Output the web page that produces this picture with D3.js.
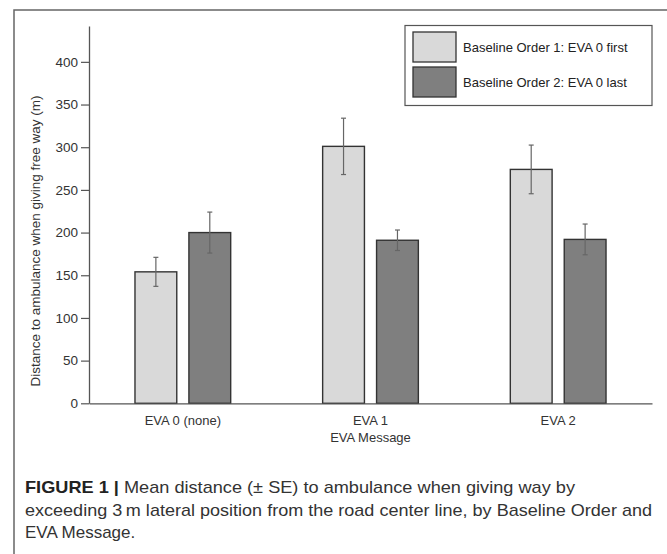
<!DOCTYPE html>
<html>
<head>
<meta charset="utf-8">
<script src="https://cdn.jsdelivr.net/npm/d3@7"></script>
<style>
  html, body { margin: 0; padding: 0; background: #fff; }
  svg { display: block; font-family: "Liberation Sans", Arial, Helvetica, sans-serif; }
</style>
</head>
<body>
<svg id="grafica"></svg>
<script>
// datos
const grupos = ["EVA 0 (none)", "EVA 1", "EVA 2"];
const series = ["Baseline Order 1: EVA 0 first", "Baseline Order 2: EVA 0 last"];
const mediaOrden1 = [154, 301, 274];
const mediaOrden2 = [200, 191, 192];
const seOrden1 = [17, 33, 28.5];
const seOrden2 = [24, 12, 18];
const yTicks = [0, 50, 100, 150, 200, 250, 300, 350, 400];
const colores = ["#d9d9d9", "#7f7f7f"];

const width = 667;
const height = 554;
const fuente = "'Liberation Sans', Arial, sans-serif";

const svg = d3.select("#grafica")
  .attr("width", width)
  .attr("height", height);

// marco de la figura
svg.append("path")
  .attr("d", `M 14,${height} L 14,10 L ${width},10`)
  .attr("fill", "none")
  .attr("stroke", "#666")
  .attr("stroke-width", 1.5);

const x0 = d3.scaleBand()
  .domain(grupos)
  .range([89, 652])
  .paddingInner(0.49)
  .paddingOuter(0.245);

const x1 = d3.scaleBand()
  .domain(series)
  .range([0, x0.bandwidth()])
  .paddingInner(0.225);

const y = d3.scaleLinear()
  .domain([0, 442])
  .range([403.3, 26]);

const datos = [];
grupos.forEach((g, i) => {
  datos.push({ grupo: g, serie: series[0], media: mediaOrden1[i], se: seOrden1[i], color: colores[0] });
  datos.push({ grupo: g, serie: series[1], media: mediaOrden2[i], se: seOrden2[i], color: colores[1] });
});

// barras
svg.append("g")
  .selectAll("rect")
  .data(datos)
  .join("rect")
  .attr("x", d => x0(d.grupo) + x1(d.serie))
  .attr("y", d => y(d.media))
  .attr("width", x1.bandwidth())
  .attr("height", d => y(0) - y(d.media))
  .attr("fill", d => d.color)
  .attr("stroke", "#333")
  .attr("stroke-width", 1.4);

// barras de error
const err = svg.append("g")
  .attr("stroke", "#666")
  .attr("stroke-width", 1.2)
  .selectAll("g")
  .data(datos)
  .join("g")
  .attr("transform", d => `translate(${x0(d.grupo) + x1(d.serie) + x1.bandwidth() / 2},0)`);

err.append("line")
  .attr("y1", d => y(d.media + d.se))
  .attr("y2", d => y(d.media - d.se));
err.append("line")
  .attr("x1", -2.5).attr("x2", 2.5)
  .attr("y1", d => y(d.media + d.se))
  .attr("y2", d => y(d.media + d.se));
err.append("line")
  .attr("x1", -2.5).attr("x2", 2.5)
  .attr("y1", d => y(d.media - d.se))
  .attr("y2", d => y(d.media - d.se));

// eje y
const ejeY = svg.append("g")
  .attr("transform", "translate(89,0)")
  .call(d3.axisLeft(y).tickValues(yTicks).tickSize(8).tickPadding(3).tickSizeOuter(0));
ejeY.select(".domain").attr("stroke", "#555").attr("stroke-width", 1.3);
ejeY.selectAll(".tick line").attr("stroke", "#555").attr("stroke-width", 1.2);
ejeY.selectAll(".tick text")
  .attr("fill", "#333")
  .style("font-size", "13.5px")
  .style("font-family", fuente);

// eje x
const ejeX = svg.append("g")
  .attr("transform", `translate(0,${y(0)})`)
  .call(d3.axisBottom(x0).tickSize(0).tickPadding(12).tickSizeOuter(0));
ejeX.select(".domain").attr("stroke", "#555").attr("stroke-width", 1.3);
ejeX.selectAll(".tick text")
  .attr("fill", "#333")
  .style("font-size", "13px")
  .style("font-family", fuente);

// titulos de ejes
svg.append("text")
  .attr("x", 370.5)
  .attr("y", 442)
  .attr("text-anchor", "middle")
  .attr("fill", "#333")
  .style("font-size", "13px")
  .text("EVA Message");

svg.append("text")
  .attr("transform", "translate(40,241) rotate(-90)")
  .attr("text-anchor", "middle")
  .attr("fill", "#333")
  .style("font-size", "13.5px")
  .text("Distance to ambulance when giving free way (m)");

// leyenda
const leyenda = svg.append("g");
leyenda.append("rect")
  .attr("x", 405).attr("y", 25.5)
  .attr("width", 247).attr("height", 80)
  .attr("fill", "#fff")
  .attr("stroke", "#555")
  .attr("stroke-width", 1.2);

const items = leyenda.selectAll("g.item")
  .data(series)
  .join("g")
  .attr("class", "item")
  .attr("transform", (d, i) => `translate(413,${32 + i * 35})`);
items.append("rect")
  .attr("width", 43).attr("height", 30)
  .attr("fill", (d, i) => colores[i])
  .attr("stroke", "#333")
  .attr("stroke-width", 1.3);
items.append("text")
  .attr("x", 50).attr("y", 15)
  .attr("dy", "0.35em")
  .attr("fill", "#222")
  .style("font-size", "13px")
  .text(d => d);

// pie de figura
const pie = svg.append("text")
  .attr("fill", "#333")
  .style("font-size", "17px");
const l1 = pie.append("tspan").attr("x", 25).attr("y", 493)
  .attr("textLength", 550).attr("lengthAdjust", "spacingAndGlyphs");
l1.append("tspan").attr("font-weight", "bold").attr("fill", "#222").text("FIGURE 1 | ");
l1.append("tspan").text("Mean distance (\u00B1 SE) to ambulance when giving way by");
pie.append("tspan").attr("x", 25).attr("y", 515.5)
  .attr("textLength", 627).attr("lengthAdjust", "spacingAndGlyphs")
  .text("exceeding 3\u2009m lateral position from the road center line, by Baseline Order and");
pie.append("tspan").attr("x", 25).attr("y", 538).text("EVA Message.");
</script>
</body>
</html>
